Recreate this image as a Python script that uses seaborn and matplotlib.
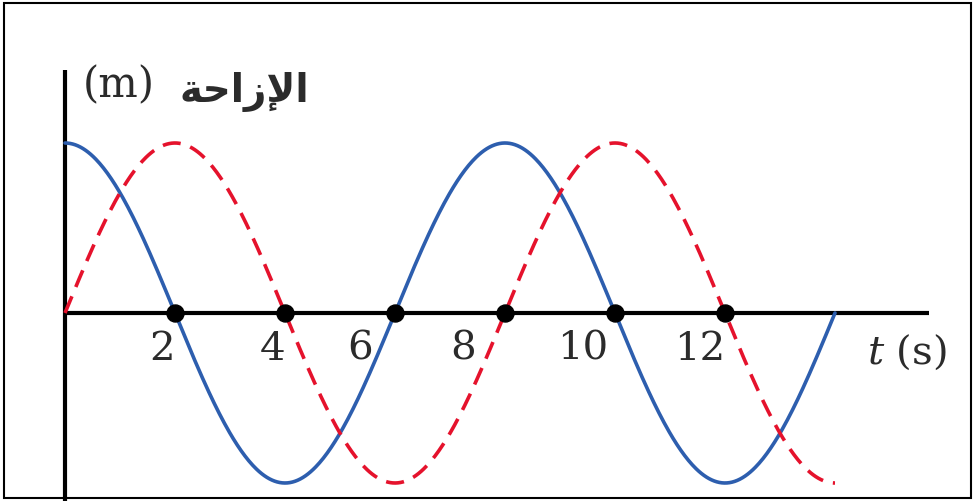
import numpy as np
import pandas as pd
import matplotlib
matplotlib.use('Agg')
import matplotlib.pyplot as plt
import seaborn as sns
from matplotlib.patches import Rectangle

# wave parameters
amplitude = 1.0
period = 8.0          # s
t_end = 14.0          # s, both curves stop here
zero_points = [2, 4, 6, 8, 10, 12]
tick_labels = ['2', '4', '6', '8', '10', '12']
y_unit = '(m)'
y_word = '\uFE94\uFEA3\uFE8D\uFEAF\uFEF9\uFE8D'   # الإزاحة, pre-shaped glyphs in visual order
x_label = r'$t$ (s)'

BLUE = '#2d5eae'
RED = '#e5122c'
TEXT = '#2b2b2b'

t = np.linspace(0, t_end, 600)
df = pd.concat([
    pd.DataFrame({'t': t, 'disp': amplitude * np.cos(2 * np.pi * t / period), 'wave': 'cos'}),
    pd.DataFrame({'t': t, 'disp': amplitude * np.sin(2 * np.pi * t / period), 'wave': 'sin'}),
])

sns.set_theme(style='white')
plt.rcParams['font.family'] = ['DejaVu Serif', 'DejaVu Sans']
plt.rcParams['mathtext.fontset'] = 'dejavuserif'

fig = plt.figure(figsize=(9.76, 5.01), dpi=100)
ax = fig.add_axes([0, 0, 1, 1])
ax.axis('off')

# axes lines
ax.plot([0, 15.7], [0, 0], color='black', lw=3, solid_capstyle='butt', zorder=2)
ax.plot([0, 0], [-1.2, 1.43], color='black', lw=3, solid_capstyle='butt', zorder=2)

sns.lineplot(data=df, x='t', y='disp', hue='wave', style='wave',
             palette={'cos': BLUE, 'sin': RED},
             dashes={'cos': '', 'sin': (5, 2.8)},
             linewidth=2.6, sort=False, legend=False, ax=ax, zorder=3)

ax.scatter(zero_points, np.zeros(len(zero_points)), s=150, color='black', zorder=4)

# labels sit left of the dots, pushed further where a curve rises through
nudges = [-13, -12, -35, -42, -32, -25]
for x, lab, dx in zip(zero_points, tick_labels, nudges):
    ax.annotate(lab, xy=(x, 0), xytext=(dx, -36), textcoords='offset pixels',
                ha='center', va='center', fontsize=29, color=TEXT)

ax.text(14.58, -0.23, x_label, fontsize=29, ha='left', va='center', color=TEXT)
ax.text(0.33, 1.27, y_unit, fontsize=30, ha='left', va='baseline', color=TEXT)
ax.text(2.09, 1.24, y_word, fontsize=28, ha='left', va='baseline', color=TEXT,
        family=['DejaVu Sans'], fontweight='bold')

ax.set_xlim(-65 / 55, (976 - 65) / 55)
ax.set_ylim(-(501 - 313) / 170, 313 / 170)

fig.patches.append(Rectangle((0.004, 0.006), 0.991, 0.988, transform=fig.transFigure,
                             fill=False, lw=1.5, edgecolor='black'))

fig.savefig('out.png', dpi=100)
